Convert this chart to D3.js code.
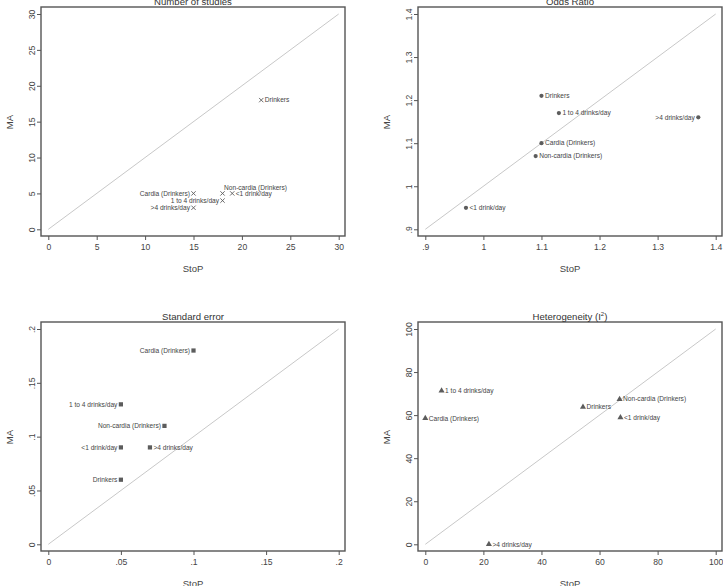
<!DOCTYPE html>
<html>
<head>
<meta charset="utf-8">
<script src="https://cdn.jsdelivr.net/npm/d3@7"></script>
<style>
  body { margin: 0; background: #fff; }
  svg { display: block; font-family: "Liberation Sans", Arial, sans-serif; }
</style>
</head>
<body>
<svg id="chart" width="723" height="586"></svg>
<script>
// categories shared by the four panels
const categories = ["Drinkers", "Cardia (Drinkers)", "Non-cardia (Drinkers)",
  "<1 drink/day", "1 to 4 drinks/day", ">4 drinks/day"];

// Number of studies
const nStudiesStoP = [22, 15, 18, 19, 18, 15];
const nStudiesMA   = [18, 5, 5, 5, 4, 3];
const nStudiesTicks = [0, 5, 10, 15, 20, 25, 30];
const nStudiesLabelPos = ["r", "l", "ur", "r", "l", "l"];

// Odds ratio
const orStoP = [1.10, 1.10, 1.09, 0.97, 1.13, 1.37];
const orMA   = [1.21, 1.10, 1.07, 0.95, 1.17, 1.16];
const orTicks = [0.9, 1, 1.1, 1.2, 1.3, 1.4];
const orLabelPos = ["r", "r", "r", "r", "r", "l"];

// Standard error
const seStoP = [0.05, 0.10, 0.08, 0.05, 0.05, 0.07];
const seMA   = [0.06, 0.18, 0.11, 0.09, 0.13, 0.09];
const seTicks = [0, 0.05, 0.1, 0.15, 0.2];
const seLabelPos = ["l", "l", "l", "l", "l", "r"];

// Heterogeneity (I2)
const i2StoP = [54.3, 0, 66.9, 67.2, 5.6, 21.9];
const i2MA   = [63.8, 58.5, 67.4, 58.9, 71.3, 0];
const i2Ticks = [0, 20, 40, 60, 80, 100];
const i2LabelPos = ["r", "r", "r", "r", "r", "r"];

const svg = d3.select("#chart");
const fmt = v => String(v).replace(/^0\./, ".");

function drawPanel(opt) {
  const g = svg.append("g").attr("transform", `translate(${opt.ox},${opt.oy})`);
  // frame box and inner data range
  const fx0 = 41, fx1 = 345, fy0 = 7, fy1 = 236;
  const x = d3.scaleLinear().domain(opt.domain).range([48.3, 338.7]);
  const y = d3.scaleLinear().domain(opt.domain).range([229.3, 14]);

  g.append("rect")
    .attr("x", fx0).attr("y", fy0)
    .attr("width", fx1 - fx0).attr("height", fy1 - fy0)
    .attr("fill", "none").attr("stroke", "#555").attr("stroke-width", 1.4);

  // x axis
  const xa = g.append("g").attr("transform", `translate(0,${fy1})`)
    .call(d3.axisBottom(x).tickValues(opt.ticks).tickFormat(fmt).tickSize(4).tickSizeOuter(0));
  xa.select(".domain").remove();
  xa.selectAll("line").attr("stroke", "#555");
  xa.selectAll("text").attr("fill", "#444").style("font-size", "8.6px").attr("y", 8);

  // y axis
  const ya = g.append("g").attr("transform", `translate(${fx0},0)`)
    .call(d3.axisLeft(y).tickValues(opt.ticks).tickFormat(fmt).tickSize(4).tickSizeOuter(0));
  ya.select(".domain").remove();
  ya.selectAll("line").attr("stroke", "#555");
  ya.selectAll("text").attr("fill", "#444").style("font-size", "8.6px")
    .attr("x", null).attr("dy", null)
    .attr("transform", "translate(-6,0) rotate(-90)")
    .attr("text-anchor", "middle");

  // diagonal
  g.append("line")
    .attr("x1", x(opt.domain[0])).attr("y1", y(opt.domain[0]))
    .attr("x2", x(opt.domain[1])).attr("y2", y(opt.domain[1]))
    .attr("stroke", "#c8c8c8").attr("stroke-width", 1);

  // titles
  const title = g.append("text").attr("x", (fx0 + fx1) / 2).attr("y", 4.5)
    .attr("text-anchor", "middle").attr("fill", "#333").style("font-size", "9.6px");
  title.text(opt.title);
  if (opt.sup) {
    title.append("tspan").attr("dy", -3.5).style("font-size", "6px").text(opt.sup);
    title.append("tspan").attr("dy", 3.5).text(")");
  }
  g.append("text").attr("x", (fx0 + fx1) / 2).attr("y", 271.5)
    .attr("text-anchor", "middle").attr("fill", "#444").style("font-size", "9.5px").text("StoP");
  g.append("text").attr("transform", `translate(13,122) rotate(-90)`)
    .attr("text-anchor", "middle").attr("fill", "#444").style("font-size", "9.5px").text("MA");

  const pts = categories.map((c, i) => ({ c, sx: opt.xs[i], my: opt.ys[i], pos: opt.lp[i] }));

  // markers
  g.selectAll("path.mk").data(pts).enter().append("path")
    .attr("class", "mk")
    .attr("transform", d => `translate(${x(d.sx)},${y(d.my)})`)
    .attr("d", d3.symbol(opt.symbol, opt.size))
    .attr("fill", opt.stroke ? "none" : "#5c5c5c")
    .attr("stroke", opt.stroke ? "#5c5c5c" : "none")
    .attr("stroke-width", 0.9);

  // marker labels
  g.selectAll("text.lb").data(pts).enter().append("text")
    .attr("class", "lb")
    .attr("x", d => x(d.sx) + (d.pos === "l" ? -3.5 : d.pos === "ur" ? 1.5 : 3.5))
    .attr("y", d => y(d.my) + (d.pos === "ur" ? -3.2 : 2.3))
    .attr("text-anchor", d => d.pos === "l" ? "end" : "start")
    .attr("fill", "#444").style("font-size", "6.6px")
    .text(d => d.c);
}

drawPanel({ ox: 0, oy: 0, title: "Number of studies", domain: [0, 30], ticks: nStudiesTicks,
  xs: nStudiesStoP, ys: nStudiesMA, lp: nStudiesLabelPos, symbol: d3.symbolX, size: 14, stroke: true });
drawPanel({ ox: 377, oy: 0, title: "Odds Ratio", domain: [0.9, 1.4], ticks: orTicks,
  xs: orStoP, ys: orMA, lp: orLabelPos, symbol: d3.symbolCircle, size: 14 });
drawPanel({ ox: 0, oy: 315, title: "Standard error", domain: [0, 0.2], ticks: seTicks,
  xs: seStoP, ys: seMA, lp: seLabelPos, symbol: d3.symbolSquare, size: 18 });
drawPanel({ ox: 377, oy: 315, title: "Heterogeneity (I", sup: "2", domain: [0, 100], ticks: i2Ticks,
  xs: i2StoP, ys: i2MA, lp: i2LabelPos, symbol: d3.symbolTriangle, size: 16 });
</script>
</body>
</html>
